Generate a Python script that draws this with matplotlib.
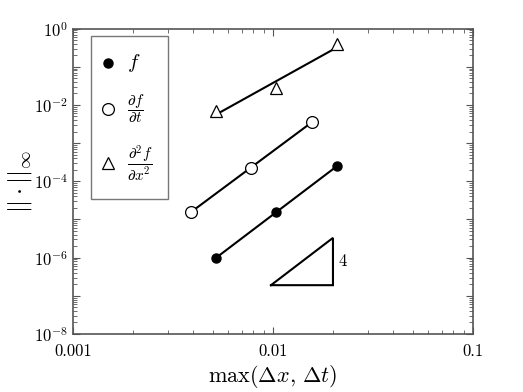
import numpy as np
import matplotlib
matplotlib.use("Agg")
import matplotlib.pyplot as plt
from matplotlib.ticker import LogLocator, FixedLocator, NullFormatter

plt.rcParams['mathtext.fontset'] = 'cm'
plt.rcParams['font.family'] = 'serif'
plt.rcParams['font.serif'] = ['cmr10', 'DejaVu Serif']
plt.rcParams['axes.formatter.use_mathtext'] = True

# data
h_f = [0.00521, 0.0104, 0.0210]
err_f = [9.8e-7, 1.58e-5, 2.5e-4]
h_ft = [0.0039, 0.00779, 0.0157]
err_ft = [1.58e-5, 2.24e-4, 3.59e-3]
h_fxx = [0.00521, 0.0104, 0.0210]
err_fxx = [6.9e-3, 2.79e-2, 0.398]
labels = [r'$f$', r'$\dfrac{\partial f}{\partial t}$', r'$\dfrac{\partial^2 f}{\partial x^2}$']
x_ticks = [0.001, 0.01, 0.1]
x_ticklabels = ['0.001', '0.01', '0.1']
y_label_exps = [-8, -6, -4, -2, 0]
tri_x = [0.0098, 0.0200]
tri_y0 = 1.9e-7
tri_slope = 4

fig = plt.figure(figsize=(5.23, 3.92), dpi=100)
ax = fig.add_axes([0.139, 0.148, 0.765, 0.779])
ax.set_xscale('log')
ax.set_yscale('log')

gray = '#555555'

def fit_line(h, e):
    lh = np.log10(h); le = np.log10(e)
    p = np.polyfit(lh, le, 1)
    xs = np.array([min(h), max(h)])
    return xs, 10 ** np.polyval(p, np.log10(xs))

series = [
    (h_f, err_f, dict(marker='o', color='black', markerfacecolor='black', markersize=6.5)),
    (h_ft, err_ft, dict(marker='o', color='black', markerfacecolor='white', markersize=8.5, markeredgewidth=0.9)),
    (h_fxx, err_fxx, dict(marker='^', color='black', markerfacecolor='white', markersize=9, markeredgewidth=0.9)),
]
handles = []
for (h, e, st), lab in zip(series, labels):
    xs, ys = fit_line(h, e)
    ax.plot(xs, ys, '-', color='black', lw=1.5, zorder=2)
    hd, = ax.plot(h, e, linestyle='none', zorder=3, label=lab, **st)
    handles.append(hd)

# slope triangle
tri_y1 = tri_y0 * (tri_x[1] / tri_x[0]) ** tri_slope
ax.plot([tri_x[0], tri_x[1], tri_x[1], tri_x[0]], [tri_y0, tri_y0, tri_y1, tri_y0],
        color='black', lw=1.5, solid_joinstyle='miter')
ax.text(tri_x[1] * 1.07, np.sqrt(tri_y0 * tri_y1), '4', fontsize=12, va='center', ha='left')

ax.set_xlim(0.001, 0.1)
ax.set_ylim(1e-8, 1e0)
ax.set_xticks(x_ticks)
ax.set_xticklabels(x_ticklabels)
ax.xaxis.set_minor_locator(LogLocator(base=10, subs=np.arange(2, 10)))
ax.xaxis.set_minor_formatter(NullFormatter())
ax.yaxis.set_major_locator(FixedLocator([10.0 ** k for k in range(-8, 1)]))
ax.set_yticklabels(['$10^{%d}$' % k if k in y_label_exps else '' for k in range(-8, 1)])
ax.yaxis.set_minor_locator(LogLocator(base=10, subs=np.arange(2, 10), numticks=20))
ax.yaxis.set_minor_formatter(NullFormatter())

for s in ax.spines.values():
    s.set_color(gray)
    s.set_linewidth(1.2)
ax.tick_params(which='both', direction='in', top=True, right=True, color=gray, labelsize=12, labelcolor='black')
ax.tick_params(which='major', length=5, width=0.8)
ax.tick_params(which='minor', length=3, width=0.6)
ax.tick_params(axis='x', which='major', pad=7)

ax.set_xlabel(r'$\max(\Delta x,\,\Delta t)$', fontsize=16, labelpad=3)
ax.set_ylabel(r'$||\cdot||_\infty$', fontsize=18, labelpad=0)

leg = ax.legend(handles=handles, loc='upper left', bbox_to_anchor=(0.045, 0.975),
                borderaxespad=0, fontsize=11, frameon=True, fancybox=False, edgecolor=gray,
                handlelength=0.1, handletextpad=1.2, labelspacing=1.2,
                borderpad=1.05)
leg.get_texts()[0].set_fontsize(15)
leg.get_frame().set_linewidth(1.0)

fig.savefig('out.png', dpi=100)
